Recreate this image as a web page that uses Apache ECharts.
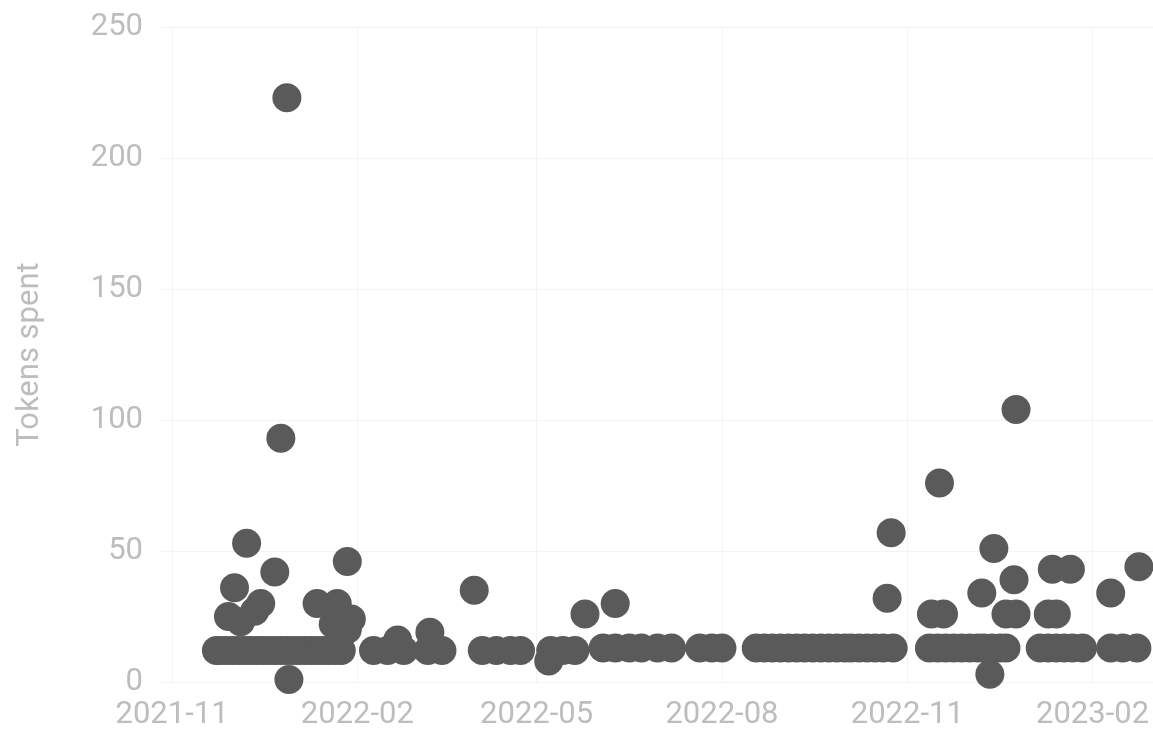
<!DOCTYPE html>
<html>

<head>
    <title>Tokens spent</title>
    <meta charset="utf-8">
    <script src="https://cdn.jsdelivr.net/npm/echarts@6/dist/echarts.min.js"></script>
</head>

<body style="margin:0">
    <div id="chart" style="width: 1153px;height:735px;"></div>
    <script>
        // regular daily spend (the flat band)
        var baseDates = [
            '2021-11-23', '2021-11-25', '2021-11-28', '2021-12-01', '2021-12-04', '2021-12-07',
            '2021-12-10', '2021-12-13', '2021-12-16', '2021-12-19', '2021-12-22', '2021-12-25',
            '2021-12-28', '2021-12-31', '2022-01-03', '2022-01-06', '2022-01-09', '2022-01-12',
            '2022-01-15', '2022-01-18', '2022-01-21', '2022-01-24',
            '2022-02-09', '2022-02-16', '2022-02-24', '2022-03-08', '2022-03-15',
            '2022-04-04', '2022-04-11', '2022-04-18', '2022-04-23', '2022-05-08', '2022-05-14', '2022-05-20',
            '2022-06-03', '2022-06-09', '2022-06-16', '2022-06-22', '2022-06-30', '2022-07-07',
            '2022-07-21', '2022-07-27', '2022-08-01',
            '2022-08-18', '2022-08-22', '2022-08-26', '2022-08-30', '2022-09-03', '2022-09-07',
            '2022-09-11', '2022-09-15', '2022-09-19', '2022-09-23', '2022-09-27', '2022-10-01',
            '2022-10-04', '2022-10-08', '2022-10-12', '2022-10-16', '2022-10-20', '2022-10-25',
            '2022-11-12', '2022-11-16', '2022-11-20', '2022-11-24', '2022-11-28', '2022-12-02',
            '2022-12-06', '2022-12-09', '2022-12-13', '2022-12-17', '2022-12-20',
            '2023-01-06', '2023-01-10', '2023-01-14', '2023-01-18', '2023-01-22', '2023-01-27',
            '2023-02-10', '2023-02-16', '2023-02-23'
        ];
        var baseValues = [
            12, 12, 12, 12, 12, 12,
            12, 12, 12, 12, 12, 12,
            12, 12, 12, 12, 12, 12,
            12, 12, 12, 12,
            12, 12, 12, 12, 12,
            12, 12, 12, 12, 12, 12, 12,
            13, 13, 13, 13, 13, 13,
            13, 13, 13,
            13, 13, 13, 13, 13, 13,
            13, 13, 13, 13, 13, 13,
            13, 13, 13, 13, 13, 13,
            13, 13, 13, 13, 13, 13,
            13, 13, 13, 13, 13,
            13, 13, 13, 13, 13, 13,
            13, 13, 13
        ];

        // days that stand out from the band
        var peakDates = [
            '2021-11-29', '2021-12-02', '2021-12-05', '2021-12-08', '2021-12-12', '2021-12-15',
            '2021-12-22', '2021-12-25', '2021-12-28', '2021-12-29', '2022-01-12', '2022-01-20',
            '2022-01-22', '2022-01-27', '2022-01-27', '2022-01-29', '2022-02-21', '2022-03-09',
            '2022-03-31', '2022-05-07', '2022-05-25', '2022-06-09',
            '2022-10-22', '2022-10-24', '2022-11-13', '2022-11-17', '2022-11-19', '2022-12-08',
            '2022-12-12', '2022-12-14', '2022-12-20', '2022-12-24', '2022-12-25', '2022-12-25',
            '2023-01-10', '2023-01-12', '2023-01-14', '2023-01-21', '2023-02-10', '2023-02-24'
        ];
        var peakValues = [
            25, 36, 23, 53, 27, 30,
            42, 93, 223, 1, 30, 22,
            30, 46, 20, 24, 16, 19,
            35, 8, 26, 30,
            32, 57, 26, 76, 26, 34,
            3, 51, 26, 39, 26, 104,
            26, 43, 26, 43, 34, 44
        ];

        var monthTicks = ['2021-11-01', '2022-02-01', '2022-05-01', '2022-08-01', '2022-11-01', '2023-02-01'];

        var points = baseDates.map((d, i) => [d, baseValues[i]])
            .concat(peakDates.map((d, i) => [d, peakValues[i]]));

        var chart = echarts.init(document.getElementById('chart'));
        var labelColor = '#bdbdbd';
        var option = {
            animation: false,
            grid: {
                left: 161,
                right: 0,
                top: 27,
                bottom: 53
            },
            xAxis: {
                type: 'time',
                min: '2021-10-26T12:00:00',
                max: '2023-03-03',
                axisLine: { show: false },
                axisTick: { show: false, customValues: monthTicks },
                axisLabel: {
                    customValues: monthTicks,
                    formatter: '{yyyy}-{MM}',
                    color: labelColor,
                    fontFamily: 'Roboto',
                    fontSize: 31,
                    margin: 18
                },
                splitLine: { show: true, lineStyle: { color: '#f3f3f3', width: 1 } }
            },
            yAxis: {
                type: 'value',
                min: 0,
                max: 250,
                interval: 50,
                name: 'Tokens spent',
                nameLocation: 'middle',
                nameGap: 115,
                nameTextStyle: { color: labelColor, fontFamily: 'Roboto', fontSize: 31 },
                axisLine: { show: false },
                axisTick: { show: false },
                axisLabel: { color: labelColor, fontFamily: 'Roboto', fontSize: 31, margin: 18 },
                splitLine: { lineStyle: { color: '#f3f3f3', width: 1 } }
            },
            series: [
                {
                    type: 'scatter',
                    symbol: 'circle',
                    symbolSize: 29,
                    itemStyle: { color: '#5a5a5a', opacity: 1 },
                    data: points
                }
            ]
        };
        chart.setOption(option);
    </script>
</body>

</html>
